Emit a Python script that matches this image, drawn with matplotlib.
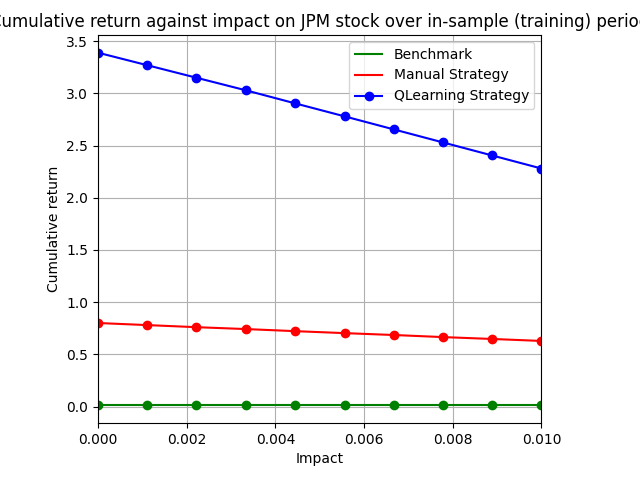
import numpy as np
import matplotlib
matplotlib.use("Agg")
import matplotlib.pyplot as plt

impact = [0.0, 0.00111, 0.00222, 0.00333, 0.00444, 0.00556, 0.00667, 0.00778, 0.00889, 0.01]
benchmark = [0.012] * 10
manual = [0.80, 0.78, 0.76, 0.742, 0.722, 0.703, 0.685, 0.665, 0.647, 0.628]
qlearn = [3.39, 3.27, 3.15, 3.03, 2.905, 2.78, 2.655, 2.53, 2.405, 2.28]

fig, ax = plt.subplots(figsize=(6.4, 4.8), dpi=100)
fig.subplots_adjust(left=0.153, right=0.846, top=0.927, bottom=0.119)
ax.plot(impact, benchmark, color="green", label="Benchmark")
ax.plot(impact, benchmark, "o", color="green")
ax.plot(impact, manual, color="red", label="Manual Strategy")
ax.plot(impact, manual, "o", color="red")
ax.plot(impact, qlearn, "o-", color="blue", label="QLearning Strategy")
ax.set_xlim(0, 0.01)
ax.set_xlabel("Impact")
ax.set_ylabel("Cumulative return")
ax.set_title("Cumulative return against impact on JPM stock over in-sample (training) period")
ax.grid(True)
ax.legend(loc="upper right")
fig.savefig("out.png")
